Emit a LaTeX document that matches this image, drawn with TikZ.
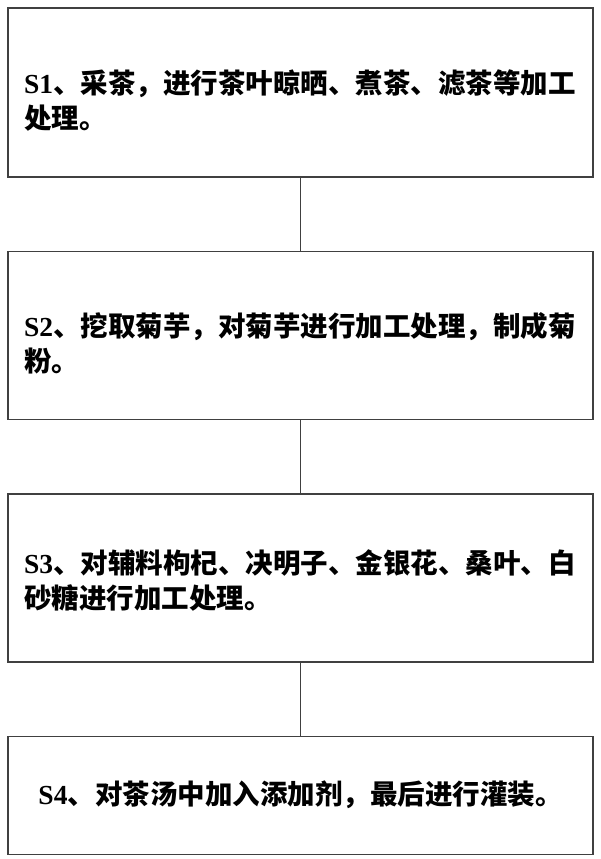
\documentclass[tikz,border=0pt]{standalone}
\usepackage{fontspec}
\setmainfont{Liberation Serif}
\newfontfamily\cjk{Noto Sans CJK SC}
\usetikzlibrary{positioning}

\begin{document}
\begin{tikzpicture}[x=1pt,y=1pt,
    stepbox/.style={draw=black!75, line width=1.4pt, minimum width=585pt,
      inner xsep=16pt, text width=553pt, align=left,
      font=\cjk\bfseries\fontsize{27.5}{35}\selectfont},
    link/.style={draw=black!75, line width=1.4pt},
    node distance=73pt]
  \useasboundingbox (0,0) rectangle (600,-859);
  \node[stepbox, minimum height=169pt, text height=40pt] (s1) at (300.5,-92.5)
    {{\rmfamily S1}、采茶，进行茶叶晾晒、煮茶、滤茶等加工\\处理。};
  \node[stepbox, minimum height=168pt, text height=40pt, below=of s1] (s2)
    {{\rmfamily S2}、挖取菊芋，对菊芋进行加工处理，制成菊\\粉。};
  \node[stepbox, minimum height=168pt, text height=30pt, below=of s2] (s3)
    {{\rmfamily S3}、对辅料枸杞、决明子、金银花、桑叶、白\\砂糖进行加工处理。};
  \node[stepbox, minimum height=118pt, below=of s3, align=center] (s4)
    {{\rmfamily S4}、对茶汤中加入添加剂，最后进行灌装。};
  \draw[link] (s1) -- (s2);
  \draw[link] (s2) -- (s3);
  \draw[link] (s3) -- (s4);
\end{tikzpicture}
\end{document}
